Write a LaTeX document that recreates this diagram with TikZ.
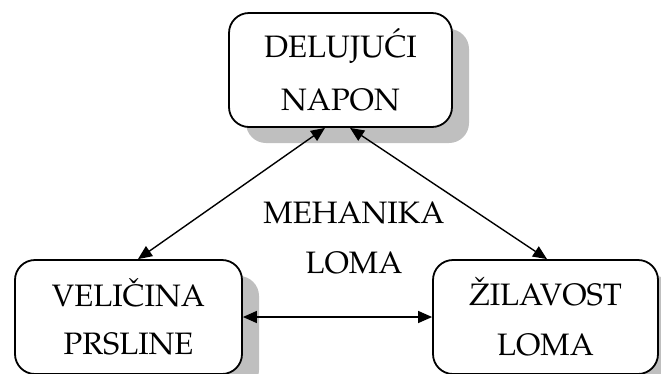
\documentclass[tikz,border=0pt]{standalone}
\usepackage[T1]{fontenc}
\usepackage{mathpazo}
\usetikzlibrary{arrows.meta,shadows}
\begin{document}
\begin{tikzpicture}[x=1pt,y=-1pt,
  box/.style={draw=black,line width=1.8pt,rounded corners=20pt,fill=white,
    inner sep=0pt,minimum height=114pt,align=center,
    drop shadow={shadow xshift=17pt,shadow yshift=-16pt,fill=black!25,opacity=1}},
  lbl/.style={align=center,inner sep=0pt},
  conn/.style={line width=1.4pt,{Triangle[length=14pt,width=12pt]}-{Triangle[length=14pt,width=12pt]}}
]
\useasboundingbox (0,0) rectangle (661,373);
\node[box,minimum width=223pt,font=\fontsize{31}{53}\selectfont] (top) at (340.5,70) {DELUJU\'CI\\NAPON};
\node[box,minimum width=227pt,font=\fontsize{31}{48}\selectfont] (left) at (128.5,317) {VELI\v{C}INA\\PRSLINE};
\node[box,minimum width=225pt,font=\fontsize{31}{50}\selectfont] (right) at (545.5,317) {\v{Z}ILAVOST\\LOMA};
\node[lbl,font=\fontsize{31}{50}\selectfont] (mid) at (354,238) {MEHANIKA\\LOMA};
\draw[conn] ([xshift=-15.5pt]top.south) -- ([xshift=9.5pt]left.north);
\draw[conn] ([xshift=9.5pt]top.south) -- ([xshift=1.5pt]right.north);
\draw[conn] (left.east) -- (right.west);
\end{tikzpicture}
\end{document}
